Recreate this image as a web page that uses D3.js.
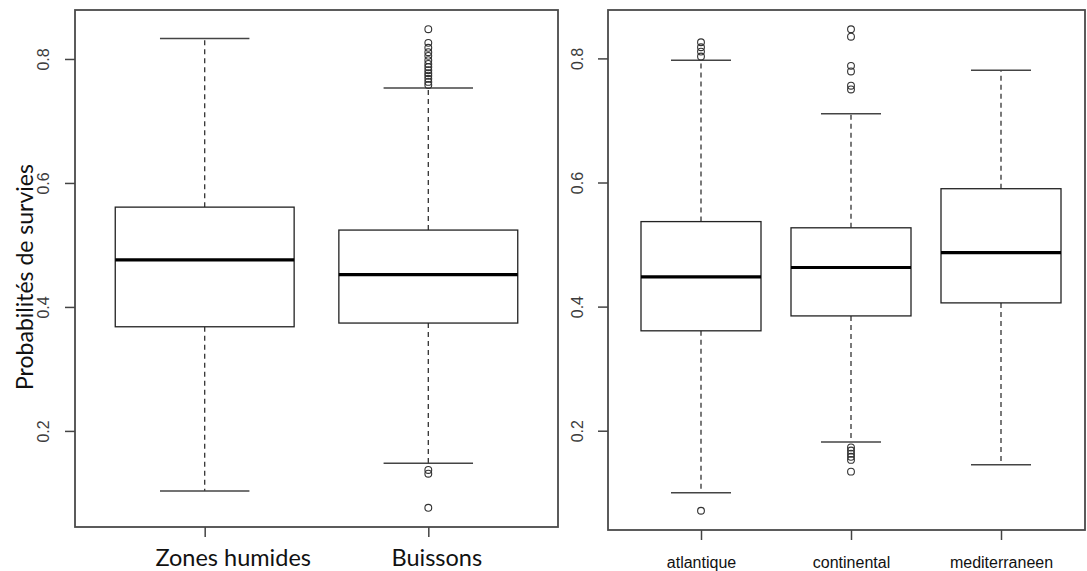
<!DOCTYPE html>
<html><head><meta charset="utf-8">
<script src="https://cdn.jsdelivr.net/npm/d3@7"></script>
<style>body{margin:0;background:#fff}svg{display:block}</style>
</head><body>
<svg id="c" width="1087" height="571"></svg>
<script>
// ---- Left panel (habitat) ----
const leftCategories = ["Zones humides", "Buissons"];
const leftLowerWhisker = [0.103, 0.148];
const leftQ1 = [0.368, 0.374];
const leftMedian = [0.476, 0.452];
const leftQ3 = [0.561, 0.524];
const leftUpperWhisker = [0.833, 0.753];
const leftOutliers = [
  [],
  [0.848, 0.826, 0.818, 0.811, 0.805, 0.798, 0.792, 0.787, 0.782, 0.777, 0.773, 0.768, 0.763, 0.758,
   0.137, 0.131, 0.076]
];
// ---- Right panel (climate region) ----
const rightCategories = ["atlantique", "continental", "mediterraneen"];
const rightLowerWhisker = [0.100, 0.182, 0.145];
const rightQ1 = [0.361, 0.385, 0.406];
const rightMedian = [0.448, 0.463, 0.487];
const rightQ3 = [0.537, 0.527, 0.590];
const rightUpperWhisker = [0.797, 0.711, 0.781];
const rightOutliers = [
  [0.826, 0.818, 0.811, 0.803, 0.071],
  [0.847, 0.835, 0.788, 0.779, 0.756, 0.750, 0.173, 0.168, 0.163, 0.158, 0.153, 0.134],
  []
];
const yTicks = [0.2, 0.4, 0.6, 0.8];
const yTitle = "Probabilités de survies";

const svg = d3.select("#c");
const calibri = "Lato, 'Open Sans', sans-serif";
const arial = "'Liberation Sans', Arial, sans-serif";

function panel(opt) {
  const g = svg.append("g");
  const x = d3.scaleLinear().domain(opt.xdom).range(opt.xr);
  const y = d3.scaleLinear().domain(opt.ydom).range(opt.yr);
  const n = opt.cats.length;
  const bw = (x(2) - x(1)) * 0.8;
  const idx = d3.range(n);

  // whiskers (dashed)
  g.selectAll(".wu").data(idx).join("line")
    .attr("x1", i => x(i + 1)).attr("x2", i => x(i + 1))
    .attr("y1", i => y(opt.q3[i])).attr("y2", i => y(opt.uw[i]))
    .attr("stroke", "#333").attr("stroke-width", 1.3).attr("stroke-dasharray", "5,4");
  g.selectAll(".wl").data(idx).join("line")
    .attr("x1", i => x(i + 1)).attr("x2", i => x(i + 1))
    .attr("y1", i => y(opt.q1[i])).attr("y2", i => y(opt.lw[i]))
    .attr("stroke", "#333").attr("stroke-width", 1.3).attr("stroke-dasharray", "5,4");
  // caps
  [opt.uw, opt.lw].forEach(arr => {
    g.selectAll(null).data(idx).join("line")
      .attr("x1", i => x(i + 1) - bw / 4).attr("x2", i => x(i + 1) + bw / 4)
      .attr("y1", i => y(arr[i])).attr("y2", i => y(arr[i]))
      .attr("stroke", "#444").attr("stroke-width", 1.5);
  });
  // boxes
  g.selectAll(".box").data(idx).join("rect")
    .attr("x", i => x(i + 1) - bw / 2).attr("width", bw)
    .attr("y", i => y(opt.q3[i])).attr("height", i => y(opt.q1[i]) - y(opt.q3[i]))
    .attr("fill", "#fff").attr("stroke", "#222").attr("stroke-width", 1.3);
  // medians
  g.selectAll(".med").data(idx).join("line")
    .attr("x1", i => x(i + 1) - bw / 2).attr("x2", i => x(i + 1) + bw / 2)
    .attr("y1", i => y(opt.med[i])).attr("y2", i => y(opt.med[i]))
    .attr("stroke", "#000").attr("stroke-width", 3.2);
  // outliers
  const pts = [];
  opt.out.forEach((arr, i) => arr.forEach(v => pts.push({ i, v })));
  g.selectAll(".out").data(pts).join("circle")
    .attr("cx", d => x(d.i + 1)).attr("cy", d => y(d.v)).attr("r", 3.4)
    .attr("fill", "none").attr("stroke", "#333").attr("stroke-width", 1.1);

  // frame
  g.append("rect").attr("x", opt.frame[0]).attr("y", opt.frame[1])
    .attr("width", opt.frame[2] - opt.frame[0]).attr("height", opt.frame[3] - opt.frame[1])
    .attr("fill", "none").attr("stroke", "#4a4a4a").attr("stroke-width", 1.8);

  // y axis
  const ya = g.append("g").attr("transform", `translate(${opt.frame[0]},0)`)
    .call(d3.axisLeft(y).tickValues(yTicks).tickSize(10).tickFormat(d3.format(".1f")));
  ya.select(".domain").remove();
  ya.selectAll(".tick line").attr("stroke", "#444").attr("stroke-width", 1.5);
  ya.selectAll(".tick text")
    .attr("x", null).attr("dy", null)
    .attr("transform", `translate(${opt.yLabX - opt.frame[0]},0) rotate(-90)`)
    .attr("text-anchor", "middle").attr("dominant-baseline", "central")
    .style("font-family", arial).style("font-size", "16px").attr("fill", "#3c3c3c");

  // x axis
  const xa = g.append("g").attr("transform", `translate(0,${opt.frame[3]})`)
    .call(d3.axisBottom(x).tickValues(idx.map(i => i + 1)).tickSize(10)
      .tickFormat(d => opt.cats[d - 1]));
  xa.select(".domain").remove();
  xa.selectAll(".tick line").attr("stroke", "#444").attr("stroke-width", 1.5);
  xa.selectAll(".tick text").attr("y", opt.xLabY - opt.frame[3]).attr("dy", null)
    .attr("x", (d, i) => opt.xLabDx[i])
    .style("font-family", opt.xFont).style("font-size", opt.xSize).attr("fill", "#111");
  return { x, y };
}

panel({
  cats: leftCategories, lw: leftLowerWhisker, q1: leftQ1, med: leftMedian, q3: leftQ3,
  uw: leftUpperWhisker, out: leftOutliers,
  xdom: [0.42, 2.58], xr: [75, 558], ydom: [0.045, 0.879], yr: [527, 10],
  frame: [75, 10, 558, 527], yLabX: 43, xLabY: 566, xFont: calibri, xSize: "23.5px",
  xLabDx: [28, 8]
});
panel({
  cats: rightCategories, lw: rightLowerWhisker, q1: rightQ1, med: rightMedian, q3: rightQ3,
  uw: rightUpperWhisker, out: rightOutliers,
  xdom: [0.38, 3.62], xr: [608, 1094], ydom: [0.040, 0.878], yr: [530, 10],
  frame: [608, 10, 1085, 530], yLabX: 577, xLabY: 568, xFont: arial, xSize: "16px",
  xLabDx: [0, 0, 0]
});

// y title
svg.append("text")
  .attr("transform", "translate(24,277) rotate(-90)")
  .attr("text-anchor", "middle").attr("dominant-baseline", "central")
  .style("font-family", calibri).style("font-size", "23px").attr("fill", "#111")
  .text(yTitle);
</script>
</body></html>
